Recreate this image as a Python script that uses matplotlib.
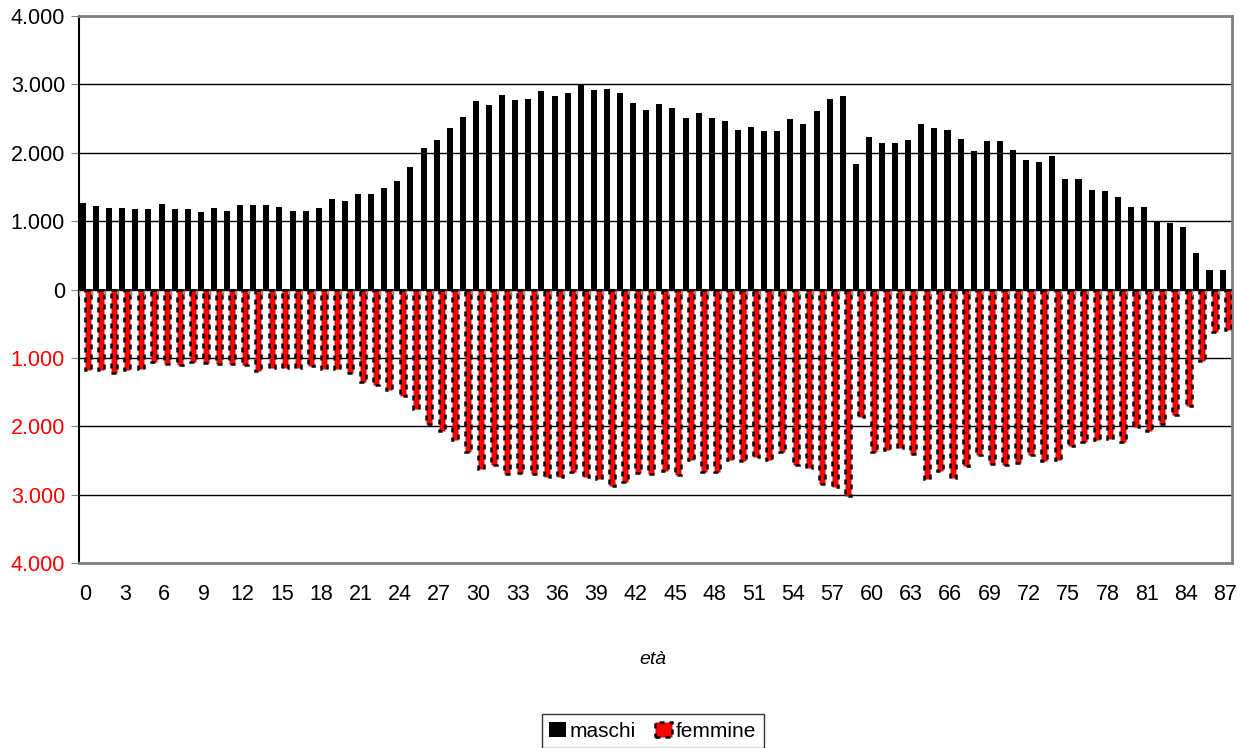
import numpy as np
import matplotlib.pyplot as plt
from matplotlib.ticker import FixedLocator, FuncFormatter

plt.rcParams['font.family'] = ['Liberation Sans', 'DejaVu Sans']

# eta 0..87
eta = list(range(88))

maschi = [1265, 1220, 1191, 1186, 1176, 1176, 1255, 1176, 1176, 1132,
          1186, 1152, 1230, 1235, 1240, 1206, 1152, 1147, 1196, 1319,
          1294, 1392, 1392, 1480, 1583, 1799, 2064, 2181, 2358, 2520,
          2750, 2696, 2843, 2775, 2784, 2897, 2828, 2868, 3000, 2917,
          2936, 2877, 2735, 2632, 2716, 2652, 2515, 2578, 2505, 2471,
          2328, 2382, 2319, 2319, 2500, 2417, 2618, 2784, 2833, 1838,
          2225, 2142, 2142, 2181, 2426, 2368, 2333, 2206, 2029, 2176,
          2167, 2034, 1887, 1858, 1956, 1623, 1618, 1451, 1441, 1353,
          1206, 1201, 995, 975, 907, 539, 284, 284]

femmine = [1171, 1171, 1215, 1171, 1156, 1054, 1083, 1098, 1054, 1068,
           1083, 1083, 1098, 1185, 1141, 1141, 1141, 1112, 1156, 1156,
           1215, 1346, 1390, 1463, 1563, 1741, 1961, 2063, 2205, 2371,
           2629, 2561, 2693, 2678, 2693, 2737, 2737, 2663, 2737, 2766,
           2868, 2810, 2678, 2693, 2649, 2707, 2488, 2663, 2663, 2488,
           2507, 2444, 2488, 2371, 2561, 2605, 2839, 2883, 3015, 1868,
           2371, 2341, 2312, 2400, 2766, 2649, 2751, 2576, 2415, 2546,
           2561, 2532, 2415, 2502, 2488, 2283, 2224, 2205, 2180, 2224,
           2015, 2063, 1961, 1829, 1698, 1039, 615, 585]

yticks = [4000, 3000, 2000, 1000, 0, -1000, -2000, -3000, -4000]

fig = plt.figure(figsize=(12.48, 7.48), dpi=100)
ax = fig.add_axes([0.0633, 0.2473, 0.9237, 0.7313])

x = np.array(eta)
w = 0.46
ax.bar(x - 0.2, maschi, width=w, color='black', zorder=3)
ax.bar(x + 0.2, [-v for v in femmine], width=w, color='#ff0000',
       edgecolor='black', linestyle=(0, (2, 2)), linewidth=1.8, zorder=3)

ax.set_xlim(-0.5, 87.5)
ax.set_ylim(-4000, 4000)

# gridlines
for v in yticks[1:-1]:
    ax.axhline(v, color='black', lw=1, zorder=1)
ax.axhline(0, color='black', lw=1.2, zorder=4)
# small category tick marks on the zero line
ax.vlines(np.arange(-0.5, 88), -90, 0, color='#808080', lw=1, zorder=4)

ax.yaxis.set_major_locator(FixedLocator(yticks))
ax.yaxis.set_major_formatter(FuncFormatter(lambda v, p: f"{abs(int(v)):,}".replace(',', '.')))
ax.tick_params(axis='y', labelsize=15.5, length=6, color='#808080', pad=4)
for lab, v in zip(ax.get_yticklabels(), yticks):
    lab.set_color('#ff0000' if v < 0 else 'black')

ax.set_xticks(eta[::3])
ax.set_xticklabels([str(e) for e in eta[::3]])
ax.tick_params(axis='x', labelsize=15.5, length=0, pad=15)

for s in ['top', 'right', 'bottom']:
    ax.spines[s].set_color('#808080')
    ax.spines[s].set_linewidth(2)
ax.spines['left'].set_color('black')
ax.spines['left'].set_linewidth(1.5)

fig.text(0.523, 1 - 660 / 748, 'età', ha='center', va='center',
         fontsize=14, style='italic')

leg = fig.legend(handles=ax.containers, labels=['maschi', 'femmine'],
                 loc='lower center', bbox_to_anchor=(0.523, -0.014), ncol=2,
                 fontsize=15, frameon=True, fancybox=False, edgecolor='black',
                 handlelength=0.8, handleheight=0.8, handletextpad=0.2,
                 columnspacing=0.9, borderpad=0.35)
leg.get_frame().set_linewidth(1)

fig.savefig('out.png', dpi=100)
